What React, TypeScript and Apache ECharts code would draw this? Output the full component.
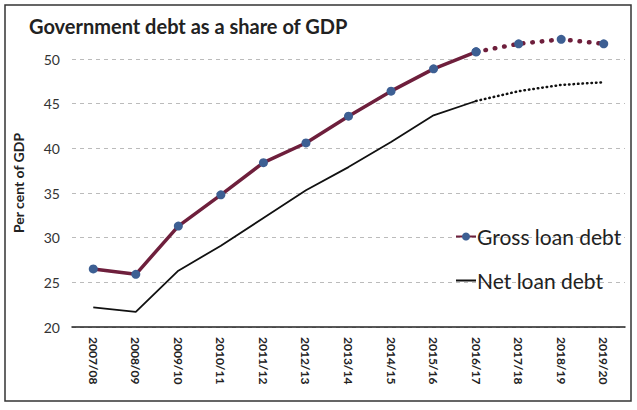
import React, { useEffect, useRef } from "react";
import * as echarts from "echarts";

const categories = ["2007/08","2008/09","2009/10","2010/11","2011/12","2012/13","2013/14","2014/15","2015/16","2016/17","2017/18","2018/19","2019/20"];
const grossDebt = [26.5, 25.9, 31.3, 34.8, 38.4, 40.6, 43.6, 46.4, 48.9, 50.8, 51.7, 52.2, 51.7];
const netDebt = [22.2, 21.7, 26.3, 29.1, 32.2, 35.3, 37.9, 40.7, 43.7, 45.3, 46.4, 47.1, 47.4];
const forecastStart = 9; // index of 2016/17, last actual
const yTicks = [20, 25, 30, 35, 40, 45, 50];

const FONT = "Lato, 'Open Sans', sans-serif";
const GROSS_LINE = "#6e1f3c";
const GROSS_MARK = "#3d5f93";

export default function App() {
  const ref = useRef<HTMLDivElement>(null);
  useEffect(() => {
    if (!ref.current) return;
    const chart = echarts.init(ref.current, null, { renderer: "svg" });
    const solid = (arr: number[]) => arr.map((v, i) => (i <= forecastStart ? v : "-"));
    const dotted = (arr: number[]) => arr.map((v, i) => (i >= forecastStart ? v : "-"));
    chart.setOption({
      animation: false,
      backgroundColor: "#ffffff",
      textStyle: { fontFamily: FONT },
      title: {
        text: "Government debt as a share of GDP",
        left: 24,
        top: 11,
        textStyle: { fontFamily: FONT, fontSize: 20, fontWeight: "bold", color: "#222" },
      },
      legend: {
        data: [
          { name: "Gross loan debt" },
          { name: "Net loan debt", icon: "path://M0,0 L20,0 L20,2 L0,2 Z", itemStyle: { color: "#111" } },
        ],
        orient: "vertical",
        left: 450,
        top: 221,
        itemGap: 23,
        itemWidth: 20,
        itemHeight: 10,
        textStyle: { fontFamily: FONT, fontSize: 21, color: "#222", padding: [0, 0, 0, -4] },
      },
      grid: { left: 72, right: 12, top: 59, bottom: 83, containLabel: false },
      xAxis: {
        type: "category",
        data: categories,
        boundaryGap: true,
        axisLine: { lineStyle: { color: "#222", width: 1.5 } },
        axisTick: { show: false },
        axisLabel: {
          rotate: -90,
          color: "#222",
          fontFamily: FONT,
          fontSize: 12,
          fontWeight: "bold",
          margin: 10,
          interval: 0,
        },
      },
      yAxis: {
        type: "value",
        min: 20,
        max: 50,
        interval: 5,
        axisLine: { show: false },
        axisTick: { show: false },
        axisLabel: {
          color: "#333",
          fontFamily: FONT,
          fontSize: 14,
          margin: 12,
          formatter: (v: number) => (yTicks.includes(v) ? String(v) : ""),
        },
        splitLine: { lineStyle: { color: "#bbb", type: [4, 4], width: 1 } },
      },
      series: [
        {
          name: "Gross loan debt",
          type: "line",
          data: solid(grossDebt),
          symbol: "circle",
          symbolSize: 9,
          clip: false,
          lineStyle: { color: GROSS_LINE, width: 3.5 },
          itemStyle: { color: GROSS_MARK },
          z: 3,
        },
        {
          name: "Gross forecast",
          type: "line",
          data: dotted(grossDebt),
          symbol: "circle",
          symbolSize: 9,
          clip: false,
          lineStyle: { color: GROSS_LINE, width: 4.5, type: [0.5, 9], cap: "round" },
          itemStyle: { color: GROSS_MARK },
          z: 3,
        },
        {
          name: "Net loan debt",
          type: "line",
          data: solid(netDebt),
          symbol: "none",
          clip: false,
          lineStyle: { color: "#111", width: 1.8 },
          itemStyle: { color: "#111" },
          z: 2,
        },
        {
          name: "Net forecast",
          type: "line",
          data: dotted(netDebt),
          symbol: "none",
          clip: false,
          lineStyle: { color: "#111", width: 2.5, type: [0.5, 4], cap: "round" },
          z: 2,
        },
      ],
      graphic: [
        {
          type: "rect",
          shape: { x: 5, y: 5, width: 626, height: 396 },
          style: { fill: "none", stroke: "#333", lineWidth: 1.5 },
          silent: true,
        },
        {
          type: "text",
          x: 18,
          y: 183,
          rotation: Math.PI / 2,
          style: {
            text: "Per cent of GDP",
            fontFamily: FONT,
            fontSize: 14,
            fontWeight: "bold",
            fill: "#222",
            textAlign: "center",
            textVerticalAlign: "middle",
          },
          silent: true,
        },
      ],
    });
    return () => chart.dispose();
  }, []);
  return (
    <div
      ref={ref}
      style={{ position: "absolute", left: 0, top: 0, width: 637, height: 410 }}
    />
  );
}
